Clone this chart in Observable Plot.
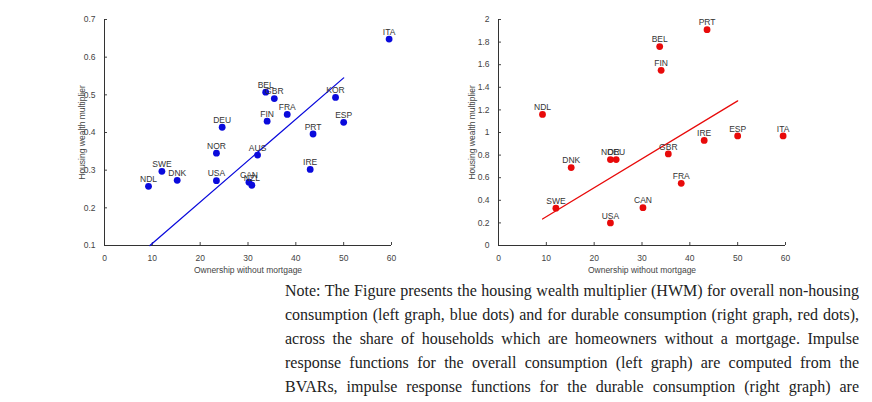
<!DOCTYPE html>
<html><head><meta charset="utf-8">
<script src="https://cdn.jsdelivr.net/npm/d3@7"></script>
<script src="https://cdn.jsdelivr.net/npm/@observablehq/plot@0.6"></script>
<style>
body{margin:0;background:#fff;}
#row{display:flex;}
#cap{margin-left:285px;width:574px;margin-top:4px;font-family:"Liberation Serif",serif;font-size:16px;line-height:24px;text-align:justify;color:#222;}
</style></head><body>
<div id="row"></div>
<div id="cap">Note: The Figure presents the housing wealth multiplier (HWM) for overall non-housing consumption (left graph, blue dots) and for durable consumption (right graph, red dots), across the share of households which are homeowners without a mortgage. Impulse response functions for the overall consumption (left graph) are computed from the BVARs, impulse response functions for the durable consumption (right graph) are computed from the local projections.</div>
<script>
const leftCountries=["NDL","SWE","DNK","USA","NOR","DEU","CAN","NZL","AUS","BEL","GBR","FIN","FRA","PRT","IRE","KOR","ESP","ITA"];
const leftX=[9.2,12,15.2,23.4,23.4,24.6,30.2,30.8,32,33.7,35.5,34,38.2,43.6,43,48.3,50,59.5];
const leftY=[0.257,0.297,0.273,0.272,0.345,0.414,0.268,0.26,0.34,0.507,0.49,0.43,0.448,0.396,0.302,0.493,0.427,0.648];
const leftFitX=[9.5,50], leftFitY=[0.1,0.545];
const rightCountries=["NDL","SWE","DNK","NOR","DEU","USA","CAN","BEL","FIN","GBR","FRA","IRE","PRT","ESP","ITA"];
const rightX=[9.2,12,15.2,23.4,24.6,23.4,30.2,33.7,34,35.5,38.2,43,43.6,50,59.5];
const rightY=[1.16,0.33,0.69,0.76,0.76,0.2,0.335,1.76,1.55,0.81,0.55,0.93,1.91,0.97,0.97];
const rightFitX=[9.2,50], rightFitY=[0.235,1.28];
const xTicks=[0,10,20,30,40,50,60];
const leftYTicks=[0.1,0.2,0.3,0.4,0.5,0.6,0.7];
const rightYTicks=[0,0.2,0.4,0.6,0.8,1,1.2,1.4,1.6,1.8,2];

function chart(cs,xs,ys,fx,fy,yDom,yTicks,color,ml,mr,yOff){
  const pts=cs.map((c,i)=>({c,x:xs[i],y:ys[i]}));
  const fit=fx.map((x,i)=>({x,y:fy[i]}));
  return Plot.plot({width:436,height:275,marginLeft:ml,marginRight:mr,marginTop:19,marginBottom:30,
    style:{fontFamily:"Liberation Sans, sans-serif",fontSize:"8.5px",color:"#444"},
    x:{domain:[0,60],ticks:xTicks,label:"Ownership without mortgage",labelAnchor:"center",labelArrow:"none",tickSize:-3,labelOffset:27},
    y:{domain:yDom,ticks:yTicks,label:"Housing wealth multiplier",labelAnchor:"center",labelArrow:"none",tickSize:-3,labelOffset:yOff,tickFormat:d=>String(d)},
    marks:[
      Plot.ruleX([0],{stroke:"#333"}),
      Plot.ruleY([yDom[0]],{stroke:"#333"}),
      Plot.line(fit,{x:"x",y:"y",stroke:color,strokeWidth:1.3}),
      Plot.dot(pts,{x:"x",y:"y",r:3.4,fill:color}),
      Plot.text(pts,{x:"x",y:"y",text:"c",dy:-7,fill:"#333",fontSize:8.5})
    ]});
}
const row=document.getElementById("row");
row.append(chart(leftCountries,leftX,leftY,leftFitX,leftFitY,[0.1,0.7],leftYTicks,"#0a0adc",104,45,26));
row.append(chart(rightCountries,rightX,rightY,rightFitX,rightFitY,[0,2],rightYTicks,"#e80a0a",62,87,30));
</script></body></html>
